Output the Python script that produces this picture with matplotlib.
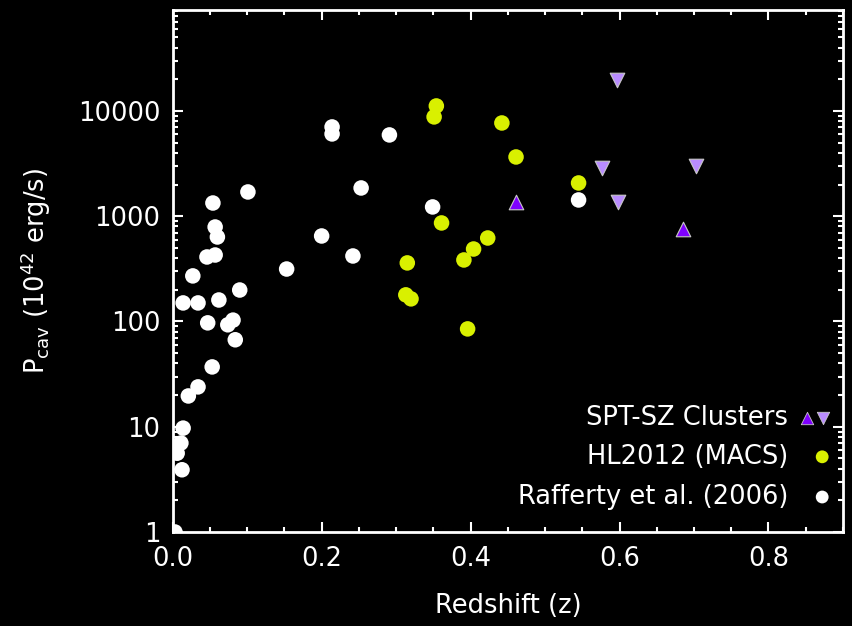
import matplotlib
matplotlib.use("Agg")
import matplotlib.pyplot as plt
from matplotlib.ticker import FixedLocator, FixedFormatter, MultipleLocator, LogLocator, NullFormatter

# Rafferty et al. (2006)
z_raff = [0.003, 0.0125, 0.011, 0.006, 0.014, 0.021, 0.034, 0.053, 0.014, 0.034,
          0.062, 0.027, 0.046, 0.057, 0.057, 0.060, 0.054, 0.101, 0.090, 0.047,
          0.074, 0.081, 0.084, 0.153, 0.200, 0.242, 0.214, 0.214, 0.291, 0.253,
          0.349, 0.545]
p_raff = [1.0, 3.9, 7.0, 5.6, 9.7, 19.6, 23.9, 37, 150, 150,
          160, 271, 410, 428, 790, 635, 1335, 1700, 199, 97,
          93, 103, 67, 315, 649, 419, 7050, 6050, 5920, 1855,
          1225, 1427]

# HL2012 (MACS)
z_hl = [0.354, 0.351, 0.442, 0.461, 0.545, 0.361, 0.423, 0.404, 0.391, 0.315,
        0.313, 0.320, 0.396]
p_hl = [11160, 8780, 7690, 3655, 2070, 863, 621, 488, 384, 360,
        179, 164, 85]

# SPT-SZ clusters
z_spt_up = [0.461, 0.685]
p_spt_up = [1366, 757]
z_spt_dn = [0.596, 0.576, 0.703, 0.598]
p_spt_dn = [19700, 2872, 3003, 1366]

legend_labels = ["SPT-SZ Clusters", "HL2012 (MACS)", "Rafferty et al. (2006)"]
yticks = [1, 10, 100, 1000, 10000]
ytick_labels = ["1", "10", "100", "1000", "10000"]

WHITE = "white"
YELLOW = "#d9f000"
PURPLE_UP = "#7f00ff"
PURPLE_DN = "#b98cff"
FS = 18.5

plt.rcParams["font.family"] = ["DejaVu Sans"]
fig = plt.figure(figsize=(8.52, 6.26), dpi=100, facecolor="black")
ax = fig.add_axes([0.2027, 0.1502, 0.7867, 0.8338], facecolor="black")

ax.scatter(z_raff, p_raff, s=125, c=WHITE, edgecolors="none", zorder=3)
ax.scatter(z_hl, p_hl, s=125, c=YELLOW, edgecolors="none", zorder=3)
ax.scatter(z_spt_up, p_spt_up, s=110, marker="^", c=PURPLE_UP, edgecolors="#c8c8c8", linewidths=0.8, zorder=4)
ax.scatter(z_spt_dn, p_spt_dn, s=110, marker="v", c=PURPLE_DN, edgecolors="#c8c8c8", linewidths=0.8, zorder=4)

ax.set_yscale("log")
ax.set_xlim(0, 0.9)
ax.set_ylim(1, 9.1e4)

ax.xaxis.set_major_locator(MultipleLocator(0.2))
ax.xaxis.set_minor_locator(MultipleLocator(0.05))
ax.xaxis.set_major_formatter(plt.FuncFormatter(lambda v, p: f"{v:.1f}"))
ax.yaxis.set_major_locator(FixedLocator(yticks))
ax.yaxis.set_major_formatter(FixedFormatter(ytick_labels))
ax.yaxis.set_minor_locator(LogLocator(base=10, subs=range(2, 10)))
ax.yaxis.set_minor_formatter(NullFormatter())

for sp in ax.spines.values():
    sp.set_color(WHITE)
    sp.set_linewidth(2)
ax.tick_params(which="both", direction="in", colors=WHITE, top=True, right=True,
               labelsize=FS, width=1.5)
ax.tick_params(which="major", length=7.5)
ax.tick_params(axis="x", which="major", pad=10)
ax.tick_params(axis="y", which="major", pad=9)
ax.tick_params(which="minor", length=3.8)

ax.set_xlabel("Redshift (z)", color=WHITE, fontsize=FS, labelpad=15)
ax.set_ylabel(r"P$_{\rm cav}$ (10$^{42}$ erg/s)", color=WHITE, fontsize=FS, labelpad=18)

# legend drawn by hand, text right-aligned with markers after it
rows_y = [0.218, 0.144, 0.067]
for lab, yy in zip(legend_labels, rows_y):
    ax.text(0.918, yy, lab, transform=ax.transAxes, color=WHITE, fontsize=FS,
            ha="right", va="center")
ax.scatter([0.946], [rows_y[0]], s=80, marker="^", c=PURPLE_UP, edgecolors="#c8c8c8",
           linewidths=0.6, transform=ax.transAxes, clip_on=False, zorder=5)
ax.scatter([0.970], [rows_y[0]], s=80, marker="v", c=PURPLE_DN, edgecolors="#c8c8c8",
           linewidths=0.6, transform=ax.transAxes, clip_on=False, zorder=5)
ax.scatter([0.969], [rows_y[1]], s=85, c=YELLOW, edgecolors="none",
           transform=ax.transAxes, clip_on=False, zorder=5)
ax.scatter([0.969], [rows_y[2]], s=85, c=WHITE, edgecolors="none",
           transform=ax.transAxes, clip_on=False, zorder=5)

fig.savefig("out.png", dpi=100, facecolor="black")
